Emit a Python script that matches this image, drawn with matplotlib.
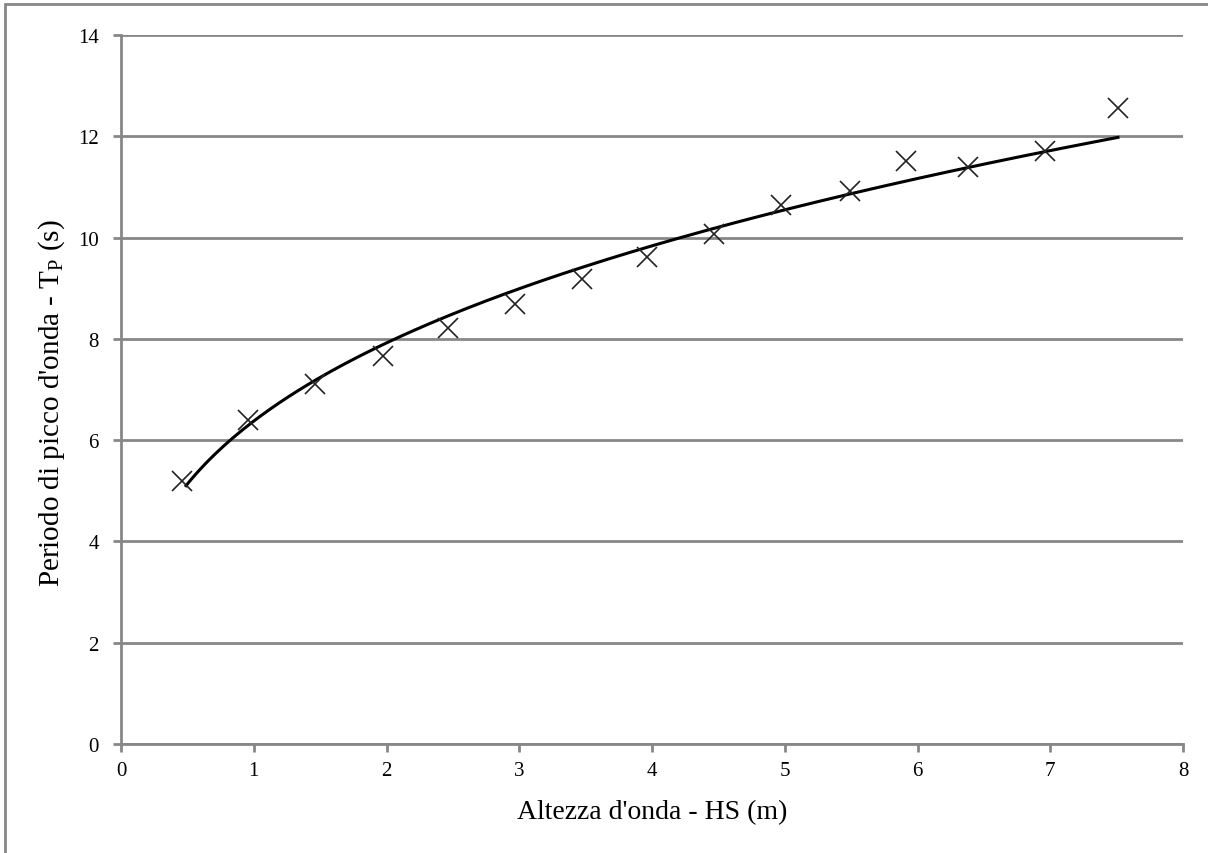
import numpy as np
import matplotlib.pyplot as plt
from matplotlib.patches import Rectangle

# dati
hs = [0.46, 0.96, 1.46, 1.97, 2.46, 2.97, 3.47, 3.96, 4.47, 4.97, 5.49, 5.91, 6.38, 6.96, 7.51]
tp = [5.19, 6.40, 7.11, 7.66, 8.21, 8.69, 9.18, 9.62, 10.07, 10.64, 10.92, 11.51, 11.39, 11.70, 12.56]

xticks = [0, 1, 2, 3, 4, 5, 6, 7, 8]
yticks = [0, 2, 4, 6, 8, 10, 12, 14]

plt.rcParams['font.family'] = ['Liberation Serif', 'DejaVu Serif']
plt.rcParams['mathtext.fontset'] = 'custom'
plt.rcParams['mathtext.rm'] = 'Liberation Serif'
plt.rcParams['mathtext.it'] = 'Liberation Serif'

fig = plt.figure(figsize=(12.08, 8.54), dpi=100)
ax = fig.add_axes([121 / 1208, 1 - 745 / 854, (1183 - 121) / 1208, (745 - 36) / 854])

# cornice esterna
fig.patches.append(Rectangle((5 / 1208, -0.1), 1.2, 1 - 5 / 854 + 0.1,
                             transform=fig.transFigure, fill=False,
                             edgecolor='#878787', linewidth=2))

# linea di tendenza (potenza, come Excel)
b, ln_a = np.polyfit(np.log(hs), np.log(tp), 1)
xf = np.linspace(hs[0] + 0.03, hs[-1], 200)
yf = np.exp(ln_a) * xf ** b

ax.plot(xf, yf, color='black', linewidth=2.2, zorder=3)
ax.plot(hs, tp, linestyle='none', marker='x', markersize=14, markeredgewidth=1.2,
        color='#222222', zorder=4)

ax.set_xlim(0, 8)
ax.set_ylim(0, 14)
ax.set_xticks(xticks)
ax.set_yticks(yticks)
ax.grid(axis='y', color='#878787', linewidth=2)
ax.set_axisbelow(True)

for s in ['top', 'right']:
    ax.spines[s].set_visible(False)
for s in ['left', 'bottom']:
    ax.spines[s].set_color('#878787')
    ax.spines[s].set_linewidth(2)

ax.tick_params(axis='both', direction='out', length=6, width=2, color='#878787',
               labelsize=15, labelcolor='black')
ax.tick_params(axis='x', pad=6)
ax.tick_params(axis='y', pad=10)

ax.set_xlabel("Altezza d'onda - HS (m)", fontsize=20)
ax.set_ylabel("Periodo di picco d'onda - T$_{\\mathrm{P}}$ (s)", fontsize=21)
ax.xaxis.set_label_coords(0.5, -0.078)
ax.yaxis.set_label_coords(-0.051, 0.482)

fig.savefig('out.png', dpi=100)
